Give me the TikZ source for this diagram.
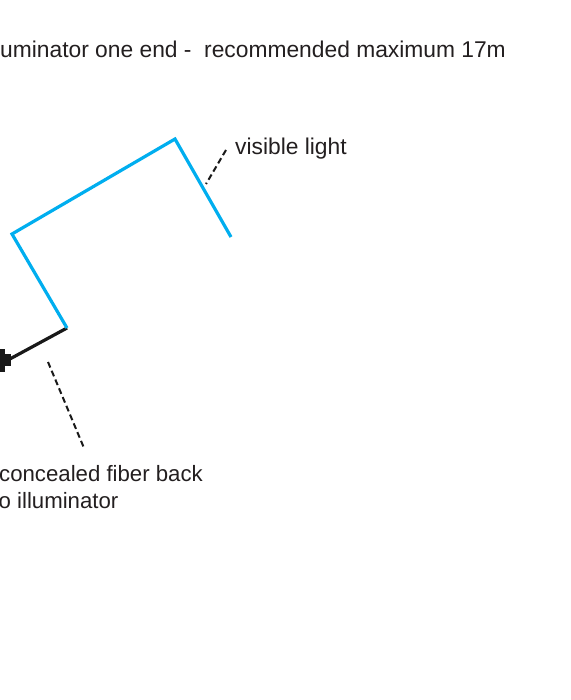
\documentclass[tikz,border=0pt]{standalone}
\usepackage{fontspec}
\setmainfont{Liberation Sans}
\definecolor{lightblue}{RGB}{0,174,239}
\definecolor{textgray}{RGB}{35,31,32}
\begin{document}
\begin{tikzpicture}[x=1pt,y=-1pt,
  label/.style={inner sep=0pt,anchor=base west,font=\fontsize{22.8}{27}\selectfont,text=textgray},
  fiber/.style={draw=lightblue,line width=3.2pt,line join=miter},
  cable/.style={draw=black!90,line width=3.2pt},
  leader/.style={draw=black!90,line width=2pt,dash pattern=on 6pt off 3.5pt}]
\useasboundingbox (0,0) rectangle (570,700);
\fill[white] (0,0) rectangle (570,700);
\clip (0,0) rectangle (570,700);
% text
\node[label] (top) at (0,58) {uminator one end -\ \ recommended maximum 17m};
\node[label] (vis) at (235,155) {visible light};
\node[label,font=\fontsize{22.2}{27}\selectfont] (fib1) at (-1,481) {concealed fiber back};
\node[label,font=\fontsize{22.2}{27}\selectfont] (fib2) at (-1.5,508) {o illuminator};
% path points
\coordinate (p1) at (67,328);
\coordinate (p2) at (12,234);
\coordinate (p3) at (175,139);
\coordinate (p4) at (231,237);
\coordinate (plug) at (8,360);
\coordinate (v1) at (226,150);
\coordinate (v2) at (206,184);
\coordinate (f1) at (48,362);
\coordinate (f2) at (84,448);
% cable
\draw[cable] (p1) -- (plug);
\fill[black!90] (-1,349) rectangle (5,372);
\fill[black!90] (-1,354) rectangle (11,366);
% fiber
\draw[fiber] (p1) -- (p2) -- (p3) -- (p4);
% leaders
\draw[leader] (v1) -- (v2);
\draw[leader] (f1) -- (f2);
\end{tikzpicture}
\end{document}
